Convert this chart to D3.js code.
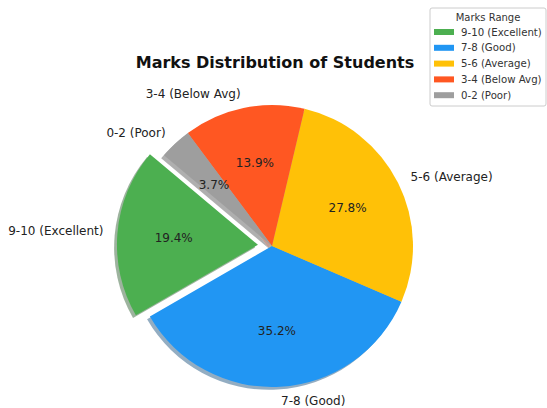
<!DOCTYPE html>
<html>
<head>
<meta charset="utf-8">
<script src="https://cdn.jsdelivr.net/npm/d3@7"></script>
<style>
	body { margin: 0; background: #fff; }
	text { font-family: "DejaVu Sans", sans-serif; }
</style>
</head>
<body>
<div id="chart"></div>
<script>
// Data

var categories = ['9-10 (Excellent)', '7-8 (Good)', '5-6 (Average)', '3-4 (Below Avg)', '0-2 (Poor)'];
var counts = [21, 38, 30, 15, 4];
var colors = ['#4CAF50', '#2196F3', '#FFC107', '#FF5722', '#9E9E9E'];
var explode = [0.1, 0, 0, 0, 0];

// Config

var width = 547, height = 408;
var cx = 272, cy = 246, radius = 141;
var startDeg = 140; // matplotlib style, ccw from 3 o'clock

var svg = d3.select('#chart').append('svg')
	.attr('width', width)
	.attr('height', height);

// d3 angles are clockwise from 12 o'clock, so go the other way round
var startRad = (90 - startDeg) * Math.PI / 180;
var pie = d3.pie()
	.sort(null)
	.value(d => d.value)
	.startAngle(startRad)
	.endAngle(startRad - 2 * Math.PI);

var slices = pie(categories.map((c, i) => ({ name: c, value: counts[i], color: colors[i], explode: explode[i] })));
var total = d3.sum(counts);

var arc = d3.arc().innerRadius(0).outerRadius(radius);

function midAngle(d) {
	return (d.startAngle + d.endAngle) / 2;
}

function offset(d) {
	const a = midAngle(d);
	const k = d.data.explode * radius;
	return [Math.sin(a) * k, -Math.cos(a) * k];
}

var g = svg.append('g').attr('transform', `translate(${cx},${cy})`);

// shadows
g.selectAll('.shadow')
	.data(slices)
	.enter().append('path')
		.attr('class', 'shadow')
		.attr('d', arc)
		.attr('fill', d => d3.color(d.data.color).darker(2))
		.attr('opacity', 0.45)
		.attr('transform', d => {
			const o = offset(d);
			return `translate(${o[0] - 0.02 * radius},${o[1] + 0.02 * radius})`;
		});

g.selectAll('.wedge')
	.data(slices)
	.enter().append('path')
		.attr('class', 'wedge')
		.attr('d', arc)
		.attr('fill', d => d.data.color)
		.attr('transform', d => `translate(${offset(d)})`);

// outer labels
g.selectAll('.label')
	.data(slices)
	.enter().append('text')
		.attr('class', 'label')
		.attr('x', d => offset(d)[0] + Math.sin(midAngle(d)) * radius * 1.1)
		.attr('y', d => offset(d)[1] - Math.cos(midAngle(d)) * radius * 1.1)
		.attr('dy', '0.35em')
		.attr('text-anchor', d => Math.sin(midAngle(d)) > 0 ? 'start' : 'end')
		.attr('font-size', 12)
		.attr('fill', '#222')
		.text(d => d.data.name);

// percent labels
g.selectAll('.pct')
	.data(slices)
	.enter().append('text')
		.attr('class', 'pct')
		.attr('x', d => offset(d)[0] + Math.sin(midAngle(d)) * radius * 0.6)
		.attr('y', d => offset(d)[1] - Math.cos(midAngle(d)) * radius * 0.6)
		.attr('dy', '0.35em')
		.attr('text-anchor', 'middle')
		.attr('font-size', 12)
		.attr('fill', '#222')
		.text(d => (d.data.value / total * 100).toFixed(1) + '%');

// title
svg.append('text')
	.attr('x', 275)
	.attr('y', 68)
	.attr('text-anchor', 'middle')
	.attr('font-size', 16)
	.attr('font-weight', 'bold')
	.attr('fill', '#111')
	.text('Marks Distribution of Students');

// legend
var legend = svg.append('g').attr('transform', 'translate(430,8)');
legend.append('rect')
	.attr('width', 116)
	.attr('height', 98)
	.attr('rx', 2)
	.attr('fill', '#fff')
	.attr('stroke', '#ccc');
legend.append('text')
	.attr('x', 58)
	.attr('y', 13)
	.attr('text-anchor', 'middle')
	.attr('font-size', 10)
	.attr('fill', '#333')
	.text('Marks Range');
var items = legend.selectAll('.item')
	.data(categories)
	.enter().append('g')
		.attr('class', 'item')
		.attr('transform', (d, i) => `translate(4,${21 + i * 15.8})`);
items.append('rect')
	.attr('width', 20)
	.attr('height', 6)
	.attr('fill', (d, i) => colors[i]);
items.append('text')
	.attr('x', 27)
	.attr('y', 3)
	.attr('dy', '0.35em')
	.attr('font-size', 10.2)
	.attr('fill', '#333')
	.text(d => d);
</script>
</body>
</html>
